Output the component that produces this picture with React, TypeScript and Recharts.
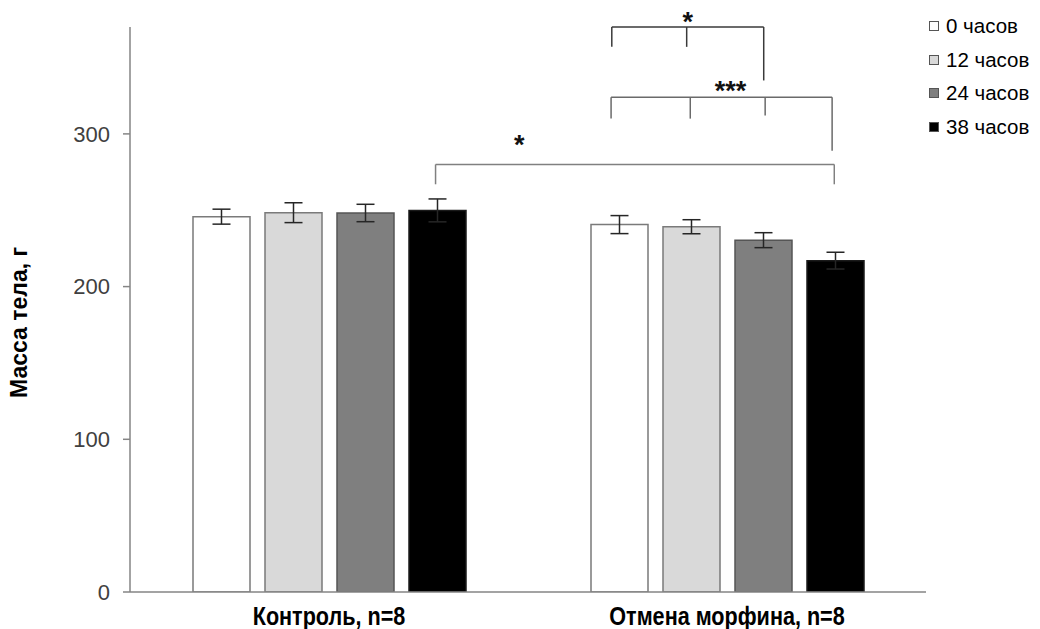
import React from 'react';
import { BarChart, Bar, XAxis, YAxis, ErrorBar, Legend, ReferenceLine } from 'recharts';

// Body mass by group and time point (mean ± SEM)
const groups = ['Контроль, n=8', 'Отмена морфина, n=8'];
const seriesNames = ['0 часов', '12 часов', '24 часов', '38 часов'];
const mass0h = [245.8, 240.6];
const mass12h = [248.4, 239.2];
const mass24h = [248.2, 230.4];
const mass38h = [249.9, 217.0];
const sem0h = [4.9, 5.9];
const sem12h = [6.5, 4.6];
const sem24h = [5.7, 4.9];
const sem38h = [7.5, 5.5];
const yTicks = [0, 100, 200, 300];
const yMax = 370;

// Significance brackets: horizontal level, legs (group, bar slot, leg bottom), marker text
const bracketLevels = [370, 324, 280];
const bracketLegs = [
  [[1, -0.1, 357], [1, 0.94, 357], [1, 2.01, 335]],
  [[1, -0.11, 310], [1, 0.99, 310], [1, 2.03, 312], [1, 2.96, 289]],
  [[0, 2.98, 267], [1, 2.99, 267]],
];
const bracketMarks = ['*', '***', '*'];

const data = groups.map((g, i) => ({
  group: g,
  h0: mass0h[i], e0: sem0h[i],
  h12: mass12h[i], e12: sem12h[i],
  h24: mass24h[i], e24: sem24h[i],
  h38: mass38h[i], e38: sem38h[i],
}));

const BAR_SIZE = 57;
const BAR_GAP = 15;
const SERIES_COUNT = 4;
const barOffset = (i: number) => (i - (SERIES_COUNT - 1) / 2) * (BAR_SIZE + BAR_GAP);

const fills = ['#ffffff', '#d9d9d9', '#7f7f7f', '#000000'];
const strokes = ['#7a7a7a', '#7a7a7a', '#555555', '#1a1a1a'];
const bracketColors = ['#3a3a3a', '#6a6a6a', '#808080'];
const markPos = [0.5, 0.54, 0.21];
const markRaise = [9, 10, 23];

const FONT = "'Liberation Sans', Arial, sans-serif";

const shiftedH = (k: number, i1: number, i2: number) => (p: any) => {
  const x1 = p.x1 + barOffset(i1);
  const x2 = p.x2 + barOffset(i2);
  const tx = x1 + (x2 - x1) * markPos[k];
  return (
    <g>
      <line x1={x1} y1={p.y1} x2={x2} y2={p.y2} stroke={bracketColors[k]} strokeWidth={1.5} />
      <text x={tx} y={p.y1 - markRaise[k] + 13} textAnchor="middle" fontFamily={FONT} fontWeight="bold" fontSize={27} fill="#111">
        {bracketMarks[k]}
      </text>
    </g>
  );
};

const shiftedV = (k: number, i: number) => (p: any) => (
  <line x1={p.x1 + barOffset(i)} y1={p.y1} x2={p.x2 + barOffset(i)} y2={p.y2} stroke={bracketColors[k]} strokeWidth={1.5} />
);

const GroupTick = (props: any) => {
  const { x, y, payload } = props;
  return (
    <text transform={`translate(${x}, ${y + 25}) scale(0.9, 1.08)`} textAnchor="middle" fontFamily={FONT} fontWeight="bold" fontSize={24} fill="#000">
      {payload.value}
    </text>
  );
};

const YLabel = (props: any) => {
  const vb = props.viewBox;
  const cx = 27;
  const cy = vb.y + vb.height / 2 + 13;
  return (
    <text x={cx} y={cy} transform={`rotate(-90, ${cx}, ${cy})`} textAnchor="middle" fontFamily={FONT} fontWeight="bold" fontSize={23} fill="#000">
      Масса тела, г
    </text>
  );
};

const LegendBox = (props: any) => {
  const items = props.payload || [];
  return (
    <div style={{ fontFamily: FONT, fontSize: 20.5, color: '#000' }}>
      {items.map((it: any, i: number) => (
        <div key={i} style={{ height: 33.7, display: 'flex', alignItems: 'center' }}>
          <span style={{ display: 'inline-block', width: 8, height: 8, background: it.color, border: '1px solid #555', marginRight: 7 }} />
          <span>{it.value}</span>
        </div>
      ))}
    </div>
  );
};

const keys = ['h0', 'h12', 'h24', 'h38'];
const errKeys = ['e0', 'e12', 'e24', 'e38'];

export default function App() {
  return (
    <div style={{ position: 'absolute', left: 0, top: 0, width: 1040, height: 629, background: '#fff' }}>
      <BarChart
        width={1040}
        height={629}
        data={data}
        margin={{ top: 27, right: 114, bottom: 0, left: 0 }}
        barSize={BAR_SIZE}
        barGap={BAR_GAP}
      >
        <XAxis
          dataKey="group"
          height={37}
          tickLine={false}
          axisLine={{ stroke: '#858585', strokeWidth: 1.5 }}
          tick={<GroupTick />}
          interval={0}
        />
        <YAxis
          width={130}
          domain={[0, yMax]}
          ticks={yTicks}
          allowDataOverflow
          tickSize={7}
          tickMargin={13}
          axisLine={{ stroke: '#858585', strokeWidth: 1.5 }}
          tickLine={{ stroke: '#858585', strokeWidth: 1.5 }}
          tick={{ fontFamily: FONT, fontSize: 22, fill: '#404040' }}
          label={<YLabel />}
        />
        <Legend
          layout="horizontal"
          verticalAlign="middle"
          align="center"
          wrapperStyle={{ top: 9, left: 929, width: 111 }}
          content={<LegendBox />}
        />
        {keys.map((k, i) => (
          <Bar key={k} dataKey={k} name={seriesNames[i]} fill={fills[i]} stroke={strokes[i]} strokeWidth={1.5} isAnimationActive={false}>
            <ErrorBar dataKey={errKeys[i]} width={9} stroke="#262626" strokeWidth={1.5} />
          </Bar>
        ))}
        {bracketLegs.map((legs, k) => {
          const first = legs[0];
          const last = legs[legs.length - 1];
          return (
            <ReferenceLine
              key={`h${k}`}
              ifOverflow="visible"
              segment={[{ x: groups[first[0]], y: bracketLevels[k] }, { x: groups[last[0]], y: bracketLevels[k] }]}
              shape={shiftedH(k, first[1], last[1])}
            />
          );
        })}
        {bracketLegs.map((legs, k) =>
          legs.map((leg, j) => (
            <ReferenceLine
              key={`v${k}-${j}`}
              ifOverflow="visible"
              segment={[{ x: groups[leg[0]], y: bracketLevels[k] }, { x: groups[leg[0]], y: leg[2] }]}
              shape={shiftedV(k, leg[1])}
            />
          ))
        )}
      </BarChart>
    </div>
  );
}
